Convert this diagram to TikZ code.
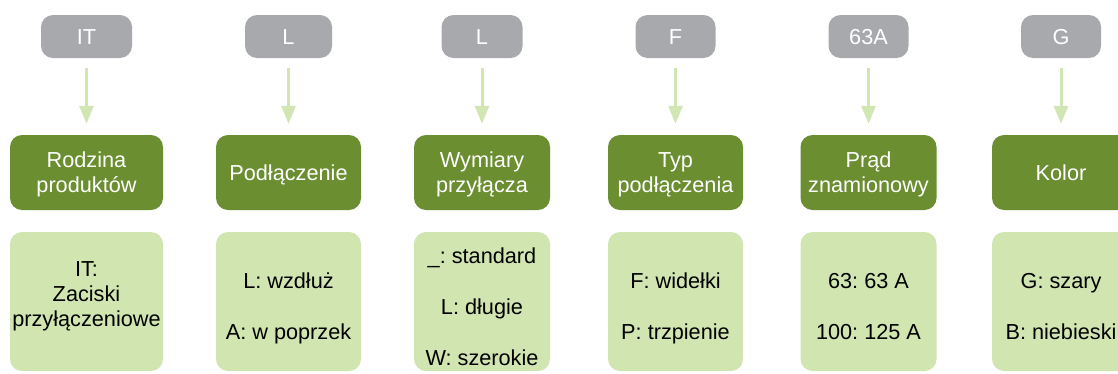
\documentclass[tikz,border=0pt]{standalone}
\usepackage{fontspec}
\setmainfont{Liberation Sans}
\usetikzlibrary{arrows.meta}
\frenchspacing
\definecolor{greyc}{HTML}{A7A9AC}
\definecolor{darkg}{HTML}{6A8E30}
\definecolor{lightg}{HTML}{D1E5B1}
\definecolor{arrowg}{HTML}{D2E6B4}
\tikzset{
  greybox/.style={fill=greyc, rounded corners=12pt, minimum height=43pt, inner sep=0pt},
  greenbox/.style={fill=darkg, rounded corners=12pt, minimum height=75pt, inner sep=0pt},
  lightbox/.style={fill=lightg, rounded corners=12pt, minimum height=139pt, inner sep=0pt},
  wtxt/.style={text=white, anchor=base, inner sep=0pt, font=\fontsize{21.7}{25}\selectfont\frenchspacing},
  btxt/.style={text=black, anchor=base, inner sep=0pt, font=\fontsize{21.7}{25}\selectfont\frenchspacing},
  conn/.style={draw=arrowg, line width=3pt, -{Triangle[length=18pt,width=14pt]}, shorten <=10pt, shorten >=11pt}
}
\begin{document}
\begin{tikzpicture}[x=1pt,y=-1pt]
\path[use as bounding box] (0,0) rectangle (1118,373);
\clip (0,0) rectangle (1118,373);
% column 1
\node[greybox, minimum width=91pt] (g1) at (86.5,36.5) {};
\node[greenbox, minimum width=153pt] (m1) at (86.5,172.5) {};
\node[lightbox, minimum width=153pt] (l1) at (86.5,301.5) {};
\node[wtxt] (g1t) at (86.5,44) {IT};
\node[wtxt] (m1a) at (86.5,167) {Rodzina};
\node[wtxt] (m1b) at (86.5,192) {produktów};
\node[btxt] (l1a) at (86.5,276) {IT:};
\node[btxt] (l1b) at (86.5,301) {Zaciski};
\node[btxt] (l1c) at (86.5,326) {przyłączeniowe};
\draw[conn] (g1) -- (m1);
% column 2
\node[greybox, minimum width=87pt] (g2) at (288.5,36.5) {};
\node[greenbox, minimum width=145pt] (m2) at (288.5,172.5) {};
\node[lightbox, minimum width=145pt] (l2) at (288.5,301.5) {};
\node[wtxt] (g2t) at (288.5,44) {L};
\node[wtxt] (m2a) at (288.5,180) {Podłączenie};
\node[btxt] (l2a) at (288.5,288) {L: wzdłuż};
\node[btxt] (l2b) at (288.5,339) {A: w poprzek};
\draw[conn] (g2) -- (m2);
% column 3
\node[greybox, minimum width=81pt] (g3) at (482,36.5) {};
\node[greenbox, minimum width=136pt] (m3) at (482,172.5) {};
\node[lightbox, minimum width=136pt] (l3) at (482,301.5) {};
\node[wtxt] (g3t) at (482,44) {L};
\node[wtxt] (m3a) at (482,167) {Wymiary};
\node[wtxt] (m3b) at (482,192) {przyłącza};
\node[btxt] (l3a) at (482,263) {\_: standard};
\node[btxt] (l3b) at (482,314) {L: długie};
\node[btxt] (l3c) at (482,365) {W: szerokie};
\draw[conn] (g3) -- (m3);
% column 4
\node[greybox, minimum width=80pt] (g4) at (675.5,36.5) {};
\node[greenbox, minimum width=135pt] (m4) at (675.5,172.5) {};
\node[lightbox, minimum width=135pt] (l4) at (675.5,301.5) {};
\node[wtxt] (g4t) at (675.5,44) {F};
\node[wtxt] (m4a) at (675.5,167) {Typ};
\node[wtxt] (m4b) at (675.5,192) {podłączenia};
\node[btxt] (l4a) at (675.5,288) {F: widełki};
\node[btxt] (l4b) at (675.5,339) {P: trzpienie};
\draw[conn] (g4) -- (m4);
% column 5
\node[greybox, minimum width=80pt] (g5) at (868.5,36.5) {};
\node[greenbox, minimum width=136pt] (m5) at (868.5,172.5) {};
\node[lightbox, minimum width=136pt] (l5) at (868.5,301.5) {};
\node[wtxt] (g5t) at (868.5,44) {63A};
\node[wtxt] (m5a) at (868.5,167) {Prąd};
\node[wtxt] (m5b) at (868.5,192) {znamionowy};
\node[btxt] (l5a) at (868.5,288) {63: 63 A};
\node[btxt] (l5b) at (868.5,339) {100: 125 A};
\draw[conn] (g5) -- (m5);
% column 6
\node[greybox, minimum width=80pt] (g6) at (1061,36.5) {};
\node[greenbox, minimum width=138pt] (m6) at (1061,172.5) {};
\node[lightbox, minimum width=138pt] (l6) at (1061,301.5) {};
\node[wtxt] (g6t) at (1061,44) {G};
\node[wtxt] (m6a) at (1061,180) {Kolor};
\node[btxt] (l6a) at (1061,288) {G: szary};
\node[btxt] (l6b) at (1061,339) {B: niebieski};
\draw[conn] (g6) -- (m6);
\end{tikzpicture}
\end{document}
